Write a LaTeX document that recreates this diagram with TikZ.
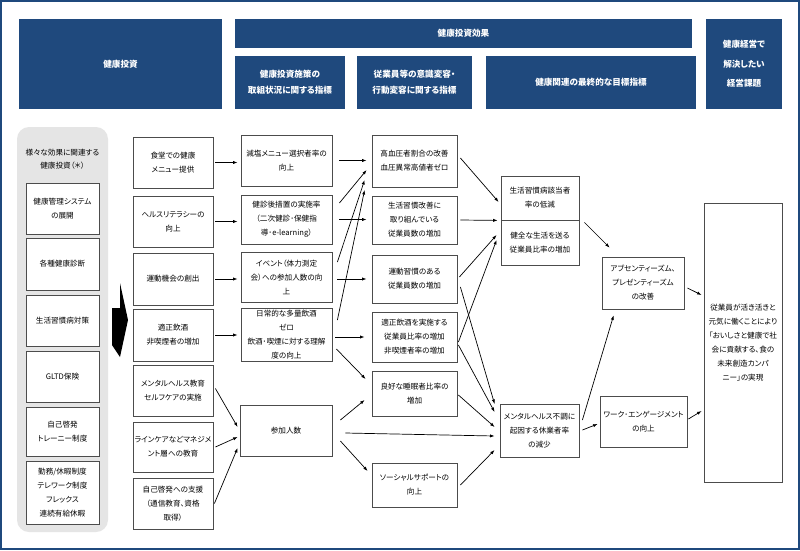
\documentclass[tikz,border=0pt]{standalone}
\usepackage{fontspec}
\setmainfont{Noto Sans CJK JP}[RawFeature={+palt}]
\usetikzlibrary{arrows.meta}
\definecolor{navy}{RGB}{31,73,125}
\begin{document}
\begin{tikzpicture}[x=1pt,y=-1pt,
  box/.style={draw=black!70, line width=0.8pt, fill=white, align=center, inner sep=1pt, font=\fontsize{7.6}{14}\selectfont},
  hdr/.style={fill=navy, text=white, align=center, inner sep=0pt, font=\fontsize{8.6}{16}\selectfont\bfseries},
  arr/.style={-{Latex[length=4.5pt,width=3.2pt]}, line width=0.7pt},
]
\useasboundingbox (0,0) rectangle (800,550);
\fill[white] (0,0) rectangle (800,550);
\draw[navy, line width=2pt] (1,1) rectangle (799,549);

% headers
\node[hdr, minimum width=203, minimum height=90] (h1) at (120.5,64) {健康投資};
\node[hdr, minimum width=457, minimum height=29] (h2) at (463.5,33.5) {健康投資効果};
\node[hdr, minimum width=110, minimum height=53] (h3) at (290,82.5) {健康投資施策の\\取組状況に関する指標};
\node[hdr, minimum width=115, minimum height=53] (h4) at (414.5,82.5) {従業員等の意識変容・\\行動変容に関する指標};
\node[hdr, minimum width=210, minimum height=53] (h5) at (591,82.5) {健康関連の最終的な目標指標};
\node[hdr, minimum width=76, minimum height=90, font=\fontsize{8.6}{19.5}\selectfont\bfseries] (h6) at (744,64) {健康経営で\\解決したい\\経営課題};

% left panel
\node[fill=gray!20, rounded corners=12pt, minimum width=91, minimum height=405, inner sep=0pt] (panel) at (62.5,329.5) {};
\node[align=center, font=\fontsize{7.6}{12.5}\selectfont] (ptitle) at (62.5,159) {様々な効果に関連する\\健康投資（＊）};
\node[box, minimum width=73, minimum height=51] (p1) at (62.5,208.5) {健康管理システム\\の展開};
\node[box, minimum width=73, minimum height=52] (p2) at (62.5,264) {各種健康診断};
\node[box, minimum width=73, minimum height=51] (p3) at (62.5,320.5) {生活習慣病対策};
\node[box, minimum width=73, minimum height=51] (p4) at (62.5,376.5) {GLTD保険};
\node[box, minimum width=73, minimum height=49] (p5) at (62.5,431.5) {自己啓発\\トレーニー制度};
\node[box, minimum width=73, minimum height=63] (p6) at (62.5,492.5) {勤務/休暇制度\\テレワーク制度\\フレックス\\連続有給休暇};

% big arrow
\fill[black] (112,308) -- (120,308) -- (120,283) -- (128,320) -- (120,357) -- (112,345) -- cycle;

% column 1
\node[box, minimum width=80, minimum height=51] (a1) at (173,162.5) {食堂での健康\\メニュー提供};
\node[box, minimum width=80, minimum height=51] (a2) at (173,221.5) {ヘルスリテラシーの\\向上};
\node[box, minimum width=80, minimum height=52] (a3) at (173,279) {運動機会の創出};
\node[box, minimum width=80, minimum height=52] (a4) at (173,335) {適正飲酒\\非喫煙者の増加};
\node[box, minimum width=80, minimum height=51] (a5) at (173,390.5) {メンタルヘルス教育\\セルフケアの実施};
\node[box, minimum width=80, minimum height=50] (a6) at (173,447) {ラインケアなどマネジメ\\ント層への教育};
\node[box, minimum width=80, minimum height=51] (a7) at (173,503.5) {自己啓発への支援\\（通信教育、資格\\取得）};

% column 2
\node[box, minimum width=91, minimum height=51] (b1) at (286.5,160.5) {減塩メニュー選択者率の\\向上};
\node[box, minimum width=91, minimum height=49] (b2) at (286.5,219.5) {健診後措置の実施率\\（二次健診･保健指\\導･e-learning）};
\node[box, minimum width=91, minimum height=50] (b3) at (286.5,277) {イベント（体力測定\\会）への参加人数の向\\上};
\node[box, minimum width=91, minimum height=53] (b4) at (286.5,334.5) {日常的な多量飲酒\\ゼロ\\飲酒･喫煙に対する理解\\度の向上};
\node[box, minimum width=92, minimum height=51] (b5) at (286,430.5) {参加人数};

% column 3
\node[box, minimum width=85, minimum height=52] (c1) at (414.5,161) {高血圧者割合の改善\\血圧異常高値者ゼロ};
\node[box, minimum width=85, minimum height=48] (c2) at (414.5,220) {生活習慣改善に\\取り組んでいる\\従業員数の増加};
\node[box, minimum width=85, minimum height=48] (c3) at (414.5,279) {運動習慣のある\\従業員数の増加};
\node[box, minimum width=85, minimum height=50] (c4) at (414.5,337) {適正飲酒を実施する\\従業員比率の増加\\非喫煙者率の増加};
\node[box, minimum width=85, minimum height=45] (c5) at (414.5,393.5) {良好な睡眠者比率の\\増加};
\node[box, minimum width=85, minimum height=44] (c6) at (414.5,485) {ソーシャルサポートの\\向上};

% column 4
\node[box, minimum width=78, minimum height=44] (d1) at (540,198) {生活習慣病該当者\\率の低減};
\node[box, minimum width=78, minimum height=45] (d2) at (540,242.5) {健全な生活を送る\\従業員比率の増加};
\node[box, minimum width=79, minimum height=53] (d3) at (539.5,430.5) {メンタルヘルス不調に\\起因する休業者率\\の減少};

% column 5
\node[box, minimum width=82, minimum height=52] (e1) at (643,283) {アブセンティーズム、\\プレゼンティーズム\\の改善};
\node[box, minimum width=87, minimum height=51] (e2) at (643.5,421.5) {ワーク･エンゲージメント\\の向上};

% column 6
\node[box, minimum width=78, minimum height=279] (f1) at (743,342.5) {従業員が活き活きと\\元気に働くことにより\\「おいしさと健康で社\\会に貢献する、食の\\未来創造カンパ\\ニー」の実現};

% arrows col1 -> col2
\foreach \i in {1,2,3,4} \draw[arr, shorten <=2pt, shorten >=3pt] (a\i.east) -- (a\i.east -| b\i.west);
\draw[arr] ([shift={(2,-2)}]a5.east) -- ([shift={(-2,-3.5)}]b5.west);
\draw[arr] ([shift={(2,0)}]a6.east) -- ([shift={(-2,6.5)}]b5.west);
\draw[arr] ([shift={(1,0)}]a7.east) -- ([shift={(-2,17.5)}]b5.west);

% col2 -> col3
\draw[arr, shorten <=7pt, shorten >=5pt] (b1.east) -- (b1.east -| c1.west);
\draw[arr] ([shift={(7,-16.5)}]b2.east) -- ([shift={(-5,9)}]c1.west);
\draw[arr, shorten <=7pt, shorten >=5pt] (b2.east) -- (b2.east -| c2.west);
\draw[arr] ([shift={(5,-15)}]b3.east) -- ([shift={(-7,19)}]c1.west);
\draw[arr] ([shift={(5,-14.5)}]b4.east) -- ([shift={(-7,29)}]c1.west);
\draw[arr, shorten <=5pt, shorten >=5pt] ([shift={(0,2)}]b3.east) -- (c3.west);
\draw[arr, shorten <=3pt, shorten >=7pt] ([shift={(0,2.5)}]b4.east) -- (c4.west);
\draw[arr] ([shift={(4,14.5)}]b4.east) -- ([shift={(-6,-14.5)}]c5.west);
\draw[arr] ([shift={(8,-10.5)}]b5.east) -- ([shift={(-7,6.5)}]c5.west);
\draw[arr] ([shift={(13,2.5)}]b5.east) -- ([shift={(-5,5.5)}]d3.west);
\draw[arr] ([shift={(8,10.5)}]b5.east) -- ([shift={(-4,-14)}]c6.west);

% col3 -> col4
\draw[arr] ([shift={(3,-3)}]c1.east) -- ([shift={(-2,4)}]d1.west);
\draw[arr] ([shift={(3,0)}]c2.east) -- ([shift={(-3,0)}]d1.south west);
\draw[arr] ([shift={(2,-2)}]c3.east) -- ([shift={(-4,-7.5)}]d2.west);
\draw[arr] ([shift={(1,5)}]c4.east) -- ([shift={(-4,-2.5)}]d2.west);
\draw[arr] ([shift={(3,8)}]c3.east) -- ([shift={(-5,-26.5)}]d3.west);
\draw[arr] ([shift={(1,8)}]c4.east) -- ([shift={(-5,-18.5)}]d3.west);
\draw[arr] ([shift={(1,1.5)}]c5.east) -- ([shift={(-5,-3.5)}]d3.west);
\draw[arr] ([shift={(3,0)}]c6.east) -- ([shift={(-5,19.5)}]d3.west);

% col4 -> col5 -> col6
\draw[arr] ([shift={(5,2)}]d1.south east) -- ([shift={(8,-9)}]e1.north west);
\draw[arr] ([shift={(3,-10.5)}]d3.east) -- ([shift={(12,6)}]e1.south west);
\draw[arr] ([shift={(3,-0.5)}]d3.east) -- ([shift={(-2,2.5)}]e2.west);
\draw[arr] ([shift={(3,5)}]e1.east) -- ([shift={(-2,-47.5)}]f1.west);
\draw[arr] ([shift={(1,-2.5)}]e2.east) -- ([shift={(-2,68.5)}]f1.west);
\end{tikzpicture}
\end{document}
